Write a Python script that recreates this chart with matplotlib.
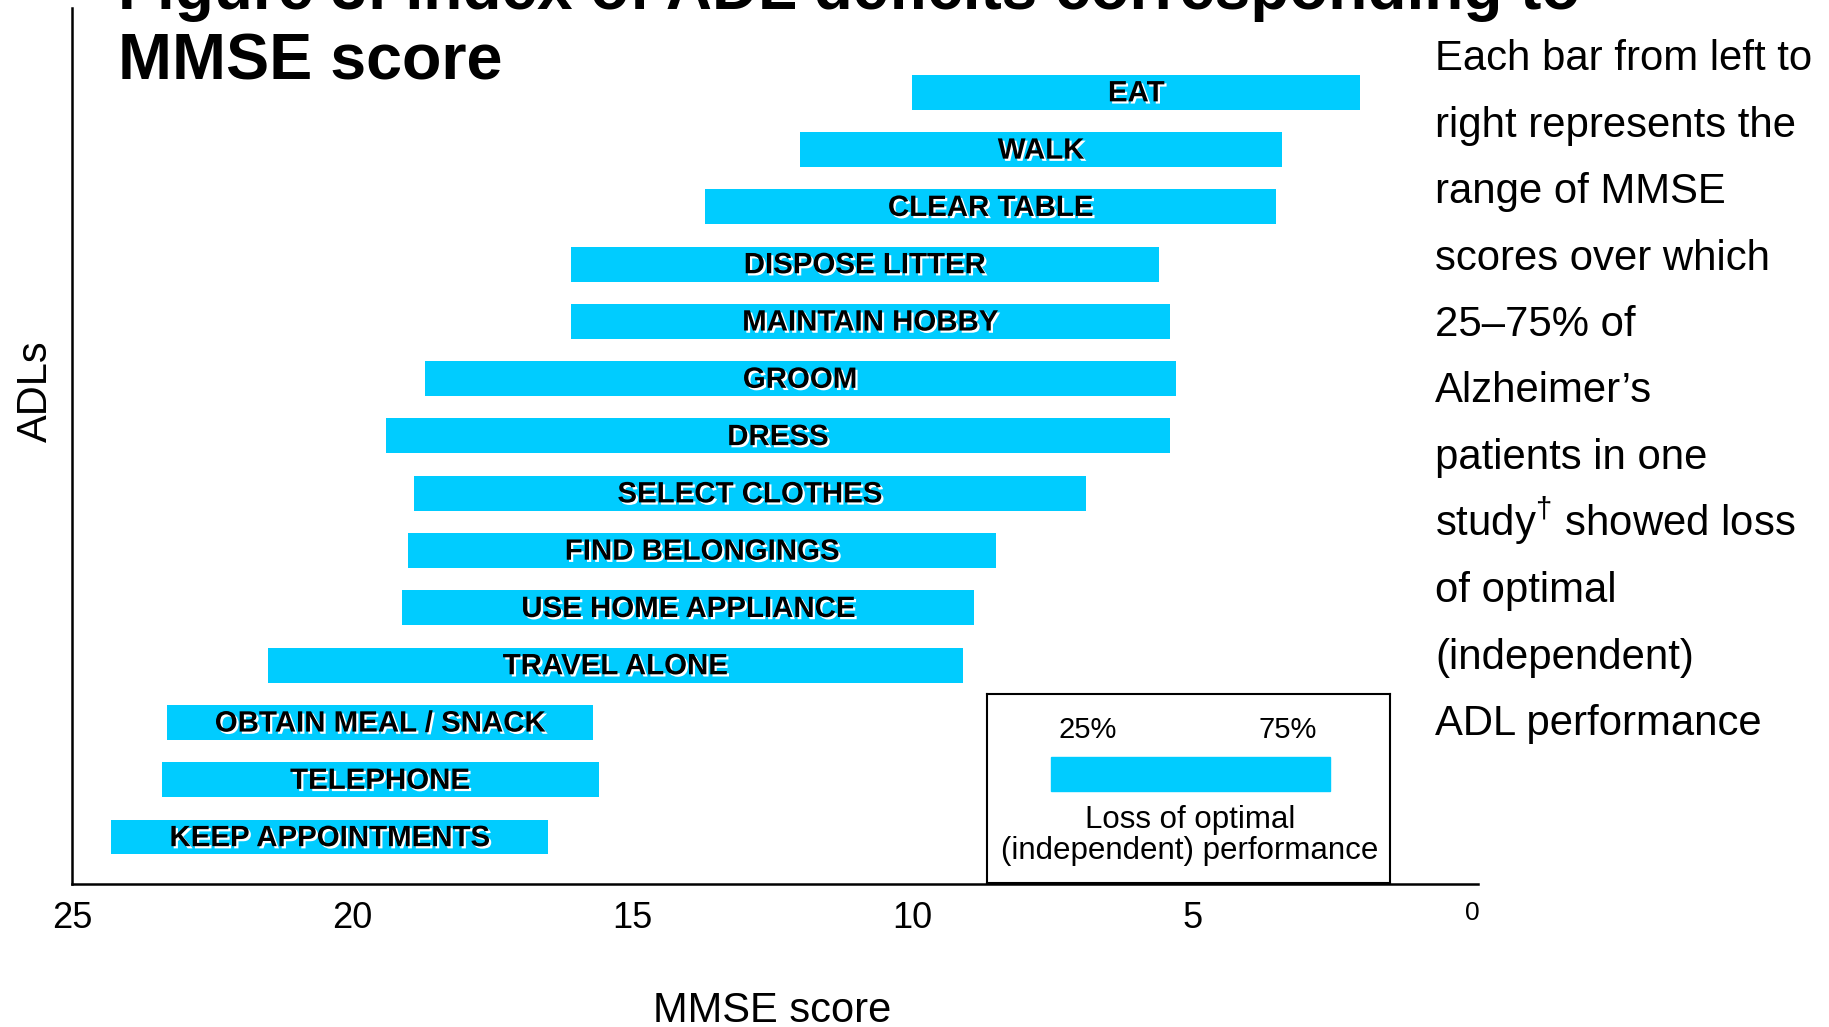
import matplotlib
matplotlib.use("Agg")
import matplotlib.pyplot as plt
import matplotlib.patheffects as pe
from matplotlib.patches import Rectangle

plt.rcParams["font.family"] = ["Liberation Sans", "DejaVu Sans"]
plt.rcParams["mathtext.fontset"] = "custom"
plt.rcParams["mathtext.rm"] = "Liberation Sans"

# ADLs from bottom to top, with the MMSE score at which 25% and 75% of patients lost them
adls = ["KEEP APPOINTMENTS", "TELEPHONE", "OBTAIN MEAL / SNACK", "TRAVEL ALONE",
        "USE HOME APPLIANCE", "FIND BELONGINGS", "SELECT CLOTHES", "DRESS", "GROOM",
        "MAINTAIN HOBBY", "DISPOSE LITTER", "CLEAR TABLE", "WALK", "EAT"]
score_25 = [24.3, 23.4, 23.3, 21.5, 19.1, 19.0, 18.9, 19.4, 18.7, 16.1, 16.1, 13.7, 12.0, 10.0]
score_75 = [16.5, 15.6, 15.7, 9.1, 8.9, 8.5, 6.9, 5.4, 5.3, 5.4, 5.6, 3.5, 3.4, 2.0]

xticks = [25, 20, 15, 10, 5, 0]

side_note = ["Each bar from left to", "right represents the", "range of MMSE",
             "scores over which", "25\u201375% of", "Alzheimer\u2019s", "patients in one",
             "study$^{\\mathrm{\u2020}}$ showed loss", "of optimal", "(independent)",
             "ADL performance"]

bar_color = "#00CCFF"
W, H = 1829, 1027

fig = plt.figure(figsize=(W / 100, H / 100), dpi=100)
ax = fig.add_axes([72 / W, (H - 884) / H, (1478 - 72) / W, (884 - 8) / H])

ypos = list(range(len(adls)))
widths = [a - b for a, b in zip(score_25, score_75)]
ax.barh(ypos, widths, left=score_75, height=0.61, color=bar_color)

shadow = [pe.SimplePatchShadow(offset=(1.6, -1.6), shadow_rgbFace="white", alpha=1.0),
          pe.Normal()]
for y, name, a, b in zip(ypos, adls, score_25, score_75):
    ax.text((a + b) / 2, y - 0.02, name, ha="center", va="center", fontsize=21.2,
            fontweight="bold", color="black", path_effects=shadow)

ax.set_xlim(25, -0.1)
ax.set_ylim(-0.82, 14.47)
ax.set_xticks(xticks)
ax.set_xticklabels([str(t) for t in xticks])
ax.tick_params(axis="x", length=0, pad=12, labelsize=26)
ax.get_xticklabels()[-1].set_fontsize(19)
ax.set_yticks([])
for s in ["top", "right"]:
    ax.spines[s].set_visible(False)
for s in ["left", "bottom"]:
    ax.spines[s].set_linewidth(1.8)

ax.set_xlabel("MMSE score", fontsize=30)
ax.xaxis.set_label_coords(0.498, -0.1445)
ax.xaxis.label.set_va("center")
ax.set_ylabel("ADLs", fontsize=30)
ax.yaxis.set_label_coords(-0.026, 0.563)
ax.yaxis.label.set_va("center")

# key box in the lower right of the plot
key = fig.add_axes([987 / W, (H - 883) / H, 403 / W, 189 / H])
key.set_xlim(0, 1)
key.set_ylim(0, 1)
key.set_xticks([])
key.set_yticks([])
for s in key.spines.values():
    s.set_linewidth(1.5)
key.add_patch(Rectangle((0.159, 0.487), 0.692, 0.18, color=bar_color))
key.text(0.251, 0.81, "25%", ha="center", va="center", fontsize=21)
key.text(0.747, 0.81, "75%", ha="center", va="center", fontsize=21)
key.text(0.504, 0.333, "Loss of optimal", ha="center", va="center", fontsize=22.5)
key.text(0.504, 0.169, "(independent) performance", ha="center", va="center", fontsize=22.5)

# title, first line runs off the top edge
fig.text(118 / W, 1 - 9 / H, "Figure 3: Index of ADL deficits corresponding to",
         fontsize=46, fontweight="bold", va="baseline")
fig.text(118 / W, 1 - 80 / H, "MMSE score", fontsize=46.5, fontweight="bold", va="baseline")

for i, line in enumerate(side_note):
    fig.text(1435 / W, 1 - (70 + i * 66.5) / H, line, fontsize=30.2, va="baseline")

fig.savefig("out.png", dpi=100)
